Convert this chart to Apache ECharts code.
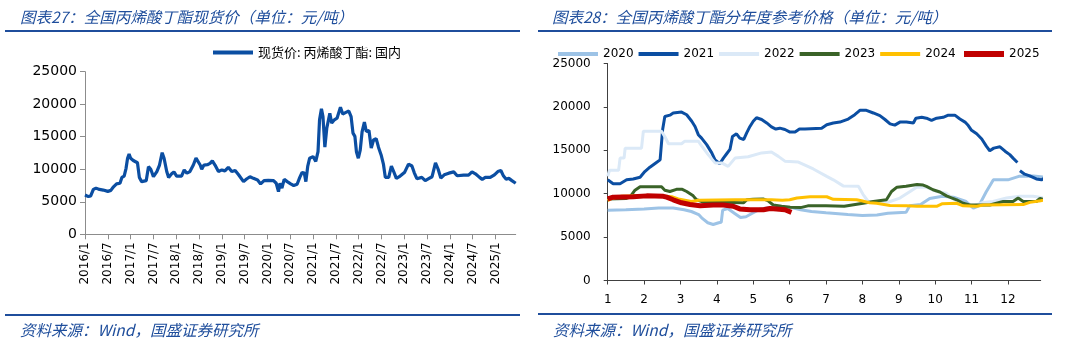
<!DOCTYPE html>
<html><head><meta charset="utf-8">
<script src="https://cdn.jsdelivr.net/npm/echarts@6/dist/echarts.min.js"></script>
<style>html,body{margin:0;padding:0;background:#fff}#c{width:1065px;height:339px}</style>
</head><body><div id="c"></div>
<script>
// ---------- Left chart: spot price (months since 2016/1) ----------
const spotMonths = [0,0.9,1.5,2.2,2.9,3.8,4.8,6.0,6.8,7.5,8.3,9.2,9.7,10.3,10.8,11.2,11.6,12.0,12.7,13.8,14.3,14.9,16.1,16.7,17.3,18.0,18.9,19.6,20.3,20.8,21.5,22.0,22.8,23.4,24.1,25.4,26.1,26.8,27.6,28.5,29.2,29.7,30.3,30.7,31.3,32.2,32.9,33.5,34.2,35.1,36.0,36.8,37.7,38.6,39.5,40.4,41.7,42.5,43.4,44.3,45.4,46.2,47.1,48.2,49.6,50.3,50.9,51.3,51.8,52.4,53.2,54.1,54.9,55.8,56.5,57.1,57.7,58.1,58.6,59.1,60.0,60.7,61.3,61.7,62.2,62.6,63.1,63.6,64.4,64.9,65.6,66.3,67.2,67.8,68.5,69.4,70.0,70.5,71.0,71.4,71.9,72.4,72.9,73.5,74.0,74.7,75.3,75.9,76.6,77.2,77.9,78.5,79.0,79.9,80.6,81.2,81.9,82.9,84.1,85.1,86.0,86.6,87.3,88.6,89.5,90.4,91.3,92.2,92.9,93.6,94.5,95.7,97.0,97.9,99.6,100.9,101.8,102.7,103.8,104.5,105.3,106.6,107.7,108.6,109.4,110.1,110.8,111.5,112.3,113.3];
const spotPrices = [6050,5800,5900,6900,7100,6900,6800,6600,6750,7300,7750,7850,8750,8950,10150,11700,12350,11700,11350,11000,8750,8100,8250,10400,10000,8850,9650,10650,12550,11700,9650,8750,9300,9600,8950,8950,9900,9400,9650,10650,11700,11850,10650,10000,10650,10700,10900,11300,10650,9650,9900,9750,10300,9650,9800,9150,8100,8500,8850,8600,8350,7750,8250,8300,8250,7850,6550,7850,7100,8450,8100,7750,7500,7700,8750,9500,9400,8100,10500,11700,11950,11200,12700,17600,19300,18100,13400,16300,18600,17100,17600,17850,19550,18500,18700,18950,18100,15550,15050,12700,11700,12950,15800,17250,15800,15950,13250,14500,14700,13400,12200,10800,8750,8750,10500,9650,8600,8950,9550,10800,10500,9500,8550,8750,8250,8550,8850,11000,10000,8650,9150,9400,9600,9000,9100,9100,9600,9300,8750,8450,8750,8750,9150,9650,9800,8950,8450,8600,8250,7850];
const spotTickLabels = ['2016/1','2016/7','2017/1','2017/7','2018/1','2018/7','2019/1','2019/7','2020/1','2020/7','2021/1','2021/7','2022/1','2022/7','2023/1','2023/7','2024/1','2024/7','2025/1'];
const spotName = '现货价: 丙烯酸丁酯: 国内';

// ---------- Right chart: yearly curves (months since Jan 1) ----------
const yearNames = ['2020','2021','2022','2023','2024','2025'];
const monthLabels = ['1','2','3','4','5','6','7','8','9','10','11','12'];
const t2020 = [0,0.5,1.0,1.4,1.8,2.1,2.3,2.5,2.6,2.75,2.9,3.05,3.12,3.16,3.3,3.5,3.65,3.8,4.0,4.2,4.5,5.0,5.3,5.6,6.0,6.6,7.0,7.4,7.7,8.2,8.3,8.6,8.85,9.2,9.5,9.85,10.05,10.2,10.4,10.6,11.0,11.3,11.7,12.0];
const p2020 = [8100,8150,8250,8350,8350,8150,7950,7600,7150,6650,6450,6650,6700,8100,8300,7700,7250,7350,7800,8250,8450,8450,8150,7950,7800,7600,7500,7550,7750,7850,8600,8750,9450,9700,9600,9100,8350,8600,10200,11600,11600,12000,12050,11900];
const t2021 = [0,0.15,0.34,0.52,0.7,0.89,1.02,1.16,1.34,1.44,1.51,1.57,1.71,1.8,2.03,2.17,2.31,2.4,2.49,2.58,2.72,2.86,2.95,3.08,3.18,3.27,3.36,3.43,3.54,3.63,3.74,3.82,3.91,4.0,4.09,4.23,4.37,4.5,4.62,4.73,4.87,5.01,5.15,5.27,5.42,5.88,6.02,6.2,6.38,6.61,6.79,6.93,7.11,7.3,7.48,7.62,7.76,7.89,8.03,8.21,8.4,8.47,8.63,8.76,8.9,9.04,9.22,9.36,9.54,9.68,9.82,9.91,10.0,10.14,10.28,10.41,10.5,10.61,10.78,10.92,11.05,11.14,11.26,11.3,11.33,11.46,11.6,11.78,11.92,12.01,12.07];
const p2021 = [11600,11150,11150,11600,11700,11900,12550,13050,13600,13900,17400,18900,19050,19300,19400,19100,18350,17750,16800,16400,15650,14700,13900,13450,14100,14600,15100,16600,16900,16400,16250,17000,17750,18350,18750,18550,18150,17700,17450,17550,17400,17100,17100,17450,17450,17550,17950,18150,18250,18600,19100,19600,19600,19300,19000,18550,18050,17900,18250,18250,18150,18700,18800,18700,18450,18700,18800,19050,19050,18600,18250,17850,17300,16900,16300,15450,14950,15250,15400,14900,14500,14100,13600,null,12650,12250,12050,11700,11600,11800,12750];
const t2022 = [0,0.05,0.3,0.34,0.45,0.48,0.93,0.98,1.48,1.58,1.67,2.03,2.12,2.49,2.58,2.76,2.95,3.13,3.31,3.5,3.86,4.23,4.5,4.69,4.87,5.24,5.65,6.02,6.2,6.47,6.89,7.02,7.16,7.48,7.76,8.03,8.31,8.49,8.76,9.04,9.31,9.49,9.77,10.05,10.32,10.59,10.96,11.33,11.69,12.0];
const p2022 = [12000,12700,12700,14100,14100,15250,15250,17200,17200,16500,15750,15750,16050,16050,15500,14500,13550,13550,13150,14100,14250,14700,14800,14300,13750,13650,12850,12000,11600,10900,10850,9900,9100,8950,9100,9500,10250,10750,10750,10250,10050,9400,8850,8600,9000,9100,9500,9700,9700,9500];
const t2023 = [0,0.5,0.61,0.75,0.89,1.48,1.57,1.71,1.89,2.05,2.17,2.35,2.44,2.63,2.9,3.73,3.82,4.0,4.27,4.4,4.55,4.78,5.01,5.3,5.5,6.0,6.5,7.02,7.3,7.66,7.8,7.95,8.2,8.5,8.67,8.76,8.94,9.13,9.31,9.59,9.77,9.95,10.5,10.87,11.14,11.28,11.42,11.78,11.88,12.0];
const p2023 = [9400,9450,9600,10400,10800,10800,10400,10250,10500,10500,10250,9750,9300,9050,9050,8950,9300,9350,9400,9200,8700,8550,8450,8400,8600,8600,8550,8900,9100,9300,10250,10750,10850,11050,11000,10850,10450,10200,9750,9300,8900,8700,8700,9100,9100,9500,9100,9100,9450,9300];
const t2024 = [0,0.1,0.38,0.84,1.48,1.76,1.94,2.12,2.3,2.5,3.5,4.5,4.8,5.0,5.2,5.56,6.02,6.2,6.84,7.0,7.2,7.39,7.76,8.21,8.5,9.04,9.2,9.59,9.77,10.14,10.32,11.42,11.6,11.9,12.05];
const p2024 = [9200,9450,9700,9750,9750,9650,9400,9250,9100,9250,9300,9300,9250,9300,9500,9650,9650,9350,9300,9150,8950,8900,8650,8600,8550,8550,8850,8900,8600,8550,8700,8750,9000,9200,9300];
const t2025 = [0,0.15,0.7,1.07,1.53,1.62,1.8,2.03,2.26,2.54,2.9,3.18,3.45,3.63,3.91,4.28,4.46,4.64,4.87,5.05];
const p2025 = [9400,9600,9650,9750,9700,9600,9300,8950,8750,8600,8700,8700,8550,8250,8150,8150,8300,8250,8150,7850];

const yearT = [t2020,t2021,t2022,t2023,t2024,t2025];
const yearP = [p2020,p2021,p2022,p2023,p2024,p2025];
const yearColors = ['#9dc3e6','#0b4ea2','#dbe9f7','#3a6328','#ffc000','#c00000'];
const yearWidths = [3,3,3,3,3,5];

const pair = (xs, ys) => xs.map((x, i) => [x, ys[i] == null ? '-' : ys[i]]);

const titleBlue = '#1f4e9c';
const cjk = '"Noto Sans CJK SC", sans-serif';
const num = '"DejaVu Sans", sans-serif';
const titleStyle = {fontFamily: cjk, fontSize: 15.5, fontStyle: 'italic', fontWeight: 'normal', color: titleBlue};
const yearLegendItem = (n) => ({name: n, icon: 'rect', itemStyle: {color: yearColors[yearNames.indexOf(n)]}});

const chart = echarts.init(document.getElementById('c'));
chart.setOption({
  animation: false,
  backgroundColor: '#fff',
  title: [
    {text: '图表27：全国丙烯酸丁酯现货价（单位：元/吨）', left: 15, top: 4, textStyle: titleStyle},
    {text: '图表28：全国丙烯酸丁酯分年度参考价格（单位：元/吨）', left: 547, top: 4, textStyle: titleStyle},
    {text: '资料来源：Wind，国盛证券研究所', left: 15, top: 317, textStyle: titleStyle},
    {text: '资料来源：Wind，国盛证券研究所', left: 548, top: 317, textStyle: titleStyle}
  ],
  graphic: [
    {type: 'rect', shape: {x: 5, y: 30, width: 515, height: 2}, style: {fill: titleBlue}},
    {type: 'rect', shape: {x: 538, y: 30, width: 514, height: 2}, style: {fill: titleBlue}},
    {type: 'rect', shape: {x: 5, y: 314, width: 515, height: 2}, style: {fill: titleBlue}},
    {type: 'rect', shape: {x: 538, y: 313, width: 514, height: 2}, style: {fill: titleBlue}}
  ],
  legend: [
    {data: [{name: spotName, icon: 'rect'}], left: 208, top: 41, itemWidth: 40, itemHeight: 4, itemGap: 8,
     textStyle: {fontFamily: cjk, fontSize: 13, color: '#000'}},
    {data: yearNames.slice(0, 5).map(yearLegendItem),
     left: 553, top: 43, width: 420, itemWidth: 40, itemHeight: 4, itemGap: 5,
     textStyle: {fontFamily: num, fontSize: 12, color: '#000'}},
    {data: yearNames.slice(5).map(yearLegendItem),
     left: 959, top: 43, itemWidth: 40, itemHeight: 6, itemGap: 5,
     textStyle: {fontFamily: num, fontSize: 12, color: '#000'}}
  ],
  grid: [
    {left: 85, top: 71.7, width: 430.7, height: 162.6, containLabel: false},
    {left: 607.7, top: 63.5, width: 433, height: 217, containLabel: false}
  ],
  xAxis: [
    {type: 'value', gridIndex: 0, min: 0, max: 113.3, splitLine: {show: false},
     axisLine: {show: true, onZero: false, lineStyle: {color: '#8c8c8c', width: 1}},
     axisTick: {show: true, length: 5, lineStyle: {color: '#8c8c8c'}, customValues: spotTickLabels.map((_, i) => i * 6)},
     axisLabel: {rotate: 90, margin: 8, fontFamily: num, fontSize: 12, color: '#000',
       customValues: spotTickLabels.map((_, i) => i * 6),
       formatter: v => spotTickLabels[Math.round(v / 6)] || ''}},
    {type: 'value', gridIndex: 1, min: 0, max: 11.9, splitLine: {show: false},
     axisLine: {show: true, onZero: false, lineStyle: {color: '#404040', width: 1}},
     axisTick: {show: true, length: 4, lineStyle: {color: '#404040'}, customValues: monthLabels.map((_, i) => i)},
     axisLabel: {margin: 13, fontFamily: num, fontSize: 12, color: '#000',
       customValues: monthLabels.map((_, i) => i),
       formatter: v => monthLabels[Math.round(v)] || ''}}
  ],
  yAxis: [
    {type: 'value', gridIndex: 0, min: 0, max: 25000, interval: 5000, splitLine: {show: false},
     axisLine: {show: true, lineStyle: {color: '#8c8c8c'}},
     axisTick: {show: true, length: 5, lineStyle: {color: '#8c8c8c'}},
     axisLabel: {margin: 8, fontFamily: num, fontSize: 14, color: '#000', formatter: v => String(v)}},
    {type: 'value', gridIndex: 1, min: 0, max: 25000, interval: 5000, splitLine: {show: false},
     axisLine: {show: true, lineStyle: {color: '#404040'}},
     axisTick: {show: true, length: 4, lineStyle: {color: '#404040'}},
     axisLabel: {margin: 17, fontFamily: num, fontSize: 12, color: '#000', formatter: v => String(v)}}
  ],
  series: [
    {name: spotName, type: 'line', xAxisIndex: 0, yAxisIndex: 0, data: pair(spotMonths, spotPrices),
     symbol: 'none', smooth: false, lineStyle: {color: '#0b4ea2', width: 3.2}, itemStyle: {color: '#0b4ea2'}}
  ].concat(yearNames.map((n, k) => ({
    name: n, type: 'line', xAxisIndex: 1, yAxisIndex: 1, data: pair(yearT[k], yearP[k]),
    symbol: 'none', clip: false, connectNulls: false,
    lineStyle: {color: yearColors[k], width: yearWidths[k]}, itemStyle: {color: yearColors[k]}
  })))
});
</script></body></html>
